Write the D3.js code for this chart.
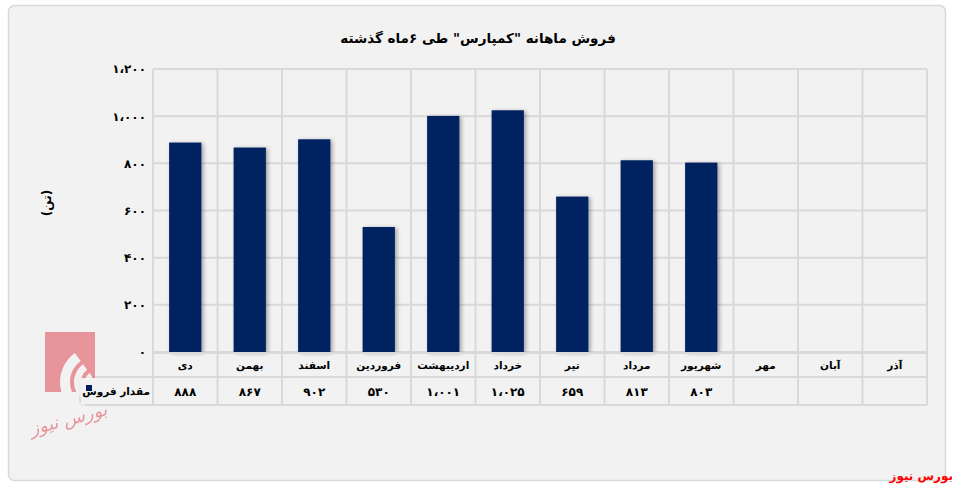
<!DOCTYPE html>
<html><head><meta charset="utf-8">
<script src="https://cdn.jsdelivr.net/npm/d3@7/dist/d3.min.js"></script>
<style>body{margin:0;background:#fff;}svg{display:block;font-family:"DejaVu Sans",sans-serif;}</style>
</head><body>
<svg id="c" width="956" height="490"></svg>
<script>
const categories = ["دی","بهمن","اسفند","فروردین","اردیبهشت","خرداد","تیر","مرداد","شهریور","مهر","آبان","آذر"];
const salesValues = [888, 867, 902, 530, 1001, 1025, 659, 813, 803, null, null, null];
const yTicks = [0, 200, 400, 600, 800, 1000, 1200];
const seriesName = "مقدار فروش";
const title = "فروش ماهانه \"کمپارس\" طی ۶ماه گذشته";
const yTitle = "(تن)";
const source = "بورس نیوز";

const fa = s => String(s).replace(/[0-9]/g, d => "۰۱۲۳۴۵۶۷۸۹"[d]).replace(/,/g, "،");
const fmt = v => fa(d3.format(",")(v));

const svg = d3.select("#c");
const defs = svg.append("defs");
const f = defs.append("filter").attr("id","sh").attr("x","-30%").attr("y","-10%").attr("width","160%").attr("height","130%");
f.append("feDropShadow").attr("dx",2).attr("dy",1).attr("stdDeviation",2).attr("flood-color","#000").attr("flood-opacity",0.35);

// chart box
svg.append("rect").attr("x",8.5).attr("y",5.5).attr("width",937).attr("height",475).attr("rx",6)
  .attr("fill","#f2f2f2").attr("stroke","#d9d9d9").attr("stroke-width",1.5);

const L = 153, R = 927, T = 69, B = 352;
const x = d3.scaleBand().domain(categories).range([L, R]);
const y = d3.scaleLinear().domain([0, 1200]).range([B, T]);
const grid = "#d9d9d9";

svg.append("g").selectAll("line").data(yTicks).join("line")
  .attr("x1", L).attr("x2", R).attr("y1", d => y(d)).attr("y2", d => y(d))
  .attr("stroke", grid).attr("stroke-width", 2);

const bounds = categories.map(c => x(c)).concat([R]);
svg.append("g").selectAll("line").data(bounds).join("line")
  .attr("x1", d => d).attr("x2", d => d).attr("y1", T).attr("y2", 405)
  .attr("stroke", grid).attr("stroke-width", 2);

const yAxis = d3.axisLeft(y).tickValues(yTicks).tickSize(0).tickPadding(6).tickFormat(fmt);
const ya = svg.append("g").attr("transform", `translate(${L-1},0)`).call(yAxis);
ya.select(".domain").remove();
ya.selectAll("text").attr("font-size", 12).attr("font-weight", "bold").attr("fill", "#000").attr("font-family","DejaVu Sans");

const bw = x.bandwidth() * 0.5;
svg.append("g").selectAll("rect").data(categories.map((c,i)=>({c, v: salesValues[i]})).filter(d => d.v != null))
  .join("rect")
  .attr("x", d => x(d.c) + (x.bandwidth()-bw)/2).attr("width", bw)
  .attr("y", d => y(d.v)).attr("height", d => y(0) - y(d.v))
  .attr("fill", "#002060").attr("filter", "url(#sh)");

const rowTop = B + 1, rowMid = 377, rowBot = 405;
svg.append("line").attr("x1", L).attr("x2", R).attr("y1", rowTop).attr("y2", rowTop).attr("stroke", grid).attr("stroke-width", 2);
svg.append("line").attr("x1", 80).attr("x2", R).attr("y1", rowMid).attr("y2", rowMid).attr("stroke", grid).attr("stroke-width", 2);
svg.append("line").attr("x1", 80).attr("x2", R).attr("y1", rowBot).attr("y2", rowBot).attr("stroke", grid).attr("stroke-width", 2);
svg.append("line").attr("x1", 80).attr("x2", 80).attr("y1", rowMid).attr("y2", rowBot).attr("stroke", grid).attr("stroke-width", 2);

// logo watermark
const lg = svg.append("g").attr("opacity", 0.8);
lg.append("rect").attr("x", 45).attr("y", 332).attr("width", 50).attr("height", 60).attr("fill", "#e57f86");
[[26,10],[15,7],[6,5]].forEach(([r,w])=>{
  lg.append("path").attr("d", d3.arc()({innerRadius:r, outerRadius:r+w, startAngle:-Math.PI*0.95, endAngle:-Math.PI*0.2}))
    .attr("transform", `translate(96,382)`).attr("fill", "#f2f2f2");
});
lg.append("text").attr("x", 70).attr("y", 425).attr("text-anchor","middle").attr("font-size",18)
  .attr("font-style","italic").attr("fill","#e57f86").attr("transform","rotate(-15,70,425)").text(source);

// legend cell
svg.append("rect").attr("x", 81).attr("y", 378).attr("width", 71).attr("height", 26).attr("fill", "#f2f2f2");
svg.append("rect").attr("x", 86).attr("y", 385).attr("width", 6).attr("height", 6).attr("fill", "#002060");
svg.append("text").attr("x", 150).attr("y", 395).attr("text-anchor", "end")
  .attr("font-size", 10.5).attr("font-weight", "bold").text(seriesName);

svg.append("g").selectAll("text").data(categories).join("text")
  .attr("x", d => x(d) + x.bandwidth()/2).attr("y", 369).attr("text-anchor", "middle")
  .attr("font-size", 10.5).attr("font-weight", "bold").text(d => d);

svg.append("g").selectAll("text").data(categories.map((c,i)=>({c, v: salesValues[i]})).filter(d => d.v != null)).join("text")
  .attr("x", d => x(d.c) + x.bandwidth()/2).attr("y", 396).attr("text-anchor", "middle")
  .attr("font-size", 12).attr("font-weight", "bold").text(d => fmt(d.v));

svg.append("text").attr("x", 478).attr("y", 43).attr("text-anchor", "middle")
  .attr("font-size", 13.5).attr("font-weight", "bold").text(title);

svg.append("text").attr("transform", "translate(51,203) rotate(-90)").attr("text-anchor", "middle")
  .attr("font-size", 12).attr("font-weight", "bold").text(yTitle);

svg.append("text").attr("x", 953).attr("y", 480).attr("text-anchor", "end")
  .attr("font-size", 12).attr("font-weight", "bold").attr("fill", "#ff0000").text(source);
</script>
</body></html>
